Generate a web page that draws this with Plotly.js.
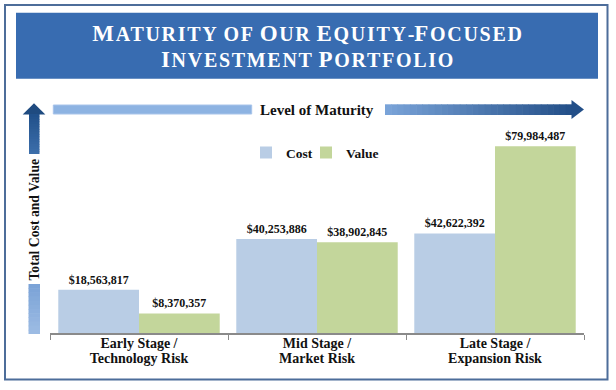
<!DOCTYPE html>
<html>
<head>
<meta charset="utf-8">
<script src="https://cdn.plot.ly/plotly-3.0.1.min.js"></script>
<style>
html,body{margin:0;padding:0;background:#fff;}
#chart{width:616px;height:390px;}
</style>
</head>
<body>
<div id="chart"></div>
<script>
// ---- data ----
const categories = ['Early Stage / Technology Risk', 'Mid Stage / Market Risk', 'Late Stage / Expansion Risk'];
const tickLabels = ['Early Stage /<br>Technology Risk', 'Mid Stage /<br>Market Risk', 'Late Stage /<br>Expansion Risk'];
const costValues = [18563817, 40253886, 42622392];
const valueValues = [8370357, 38902845, 79984487];
const seriesNames = ['Cost', 'Value'];
const chartTitle = 'Maturity of Our Equity-Focused<br>Investment Portfolio';
const yTitle = 'Total Cost and Value';
const arrowLabel = 'Level of Maturity';

// ---- layout geometry (pixels) ----
const W = 616, H = 390;
const M = {l: 50, r: 32, t: 120, b: 57};
const PW = W - M.l - M.r, PH = H - M.t - M.b;
const px = x => (x - M.l) / PW;
const py = y => (H - M.b - y) / PH;
const SERIF = 'Liberation Serif, Times New Roman, serif';

// small-caps look for the title: whole title upper-cased, original capitals a little larger
function smallCapsTitle(s){
  return s.split('<br>').map(line => line.replace(/[A-Z]+|[a-z]+/g, m =>
    /[A-Z]/.test(m[0])
      ? '<span style="font-size:23px;letter-spacing:1.7px">' + m + '</span>'
      : '<span style="letter-spacing:1.7px">' + m + '</span>'
  )).join('<br>');
}
// tick labels: 14px text with tight line spacing
function tightLines(s){
  return s.split('<br>').map(l => '<span style="font-size:14px">' + l + '</span>').join('<br>');
}

function hexToRgb(h){h=h.replace('#','');return [0,2,4].map(i=>parseInt(h.substr(i,2),16));}
function mix(c0,c1,t){const a=hexToRgb(c0),b=hexToRgb(c1);return 'rgb('+a.map((v,i)=>Math.round(v+(b[i]-v)*t)).join(',')+')';}
function hGrad(x0,x1,y0,y1,c0,c1,n){
  const out=[];const w=(x1-x0)/n;
  for(let i=0;i<n;i++){
    out.push({type:'rect',xref:'paper',yref:'paper',layer:'above',
      x0:px(x0+i*w),x1:px(Math.min(x1,x0+(i+1)*w+0.6)),y0:py(y1),y1:py(y0),
      fillcolor:mix(c0,c1,(i+0.5)/n),line:{width:0}});
  }
  return out;
}
function vGrad(x0,x1,y0,y1,c0,c1,n){
  const out=[];const h=(y1-y0)/n;
  for(let i=0;i<n;i++){
    out.push({type:'rect',xref:'paper',yref:'paper',layer:'above',
      x0:px(x0),x1:px(x1),y0:py(Math.min(y1,y0+(i+1)*h+0.6)),y1:py(y0+i*h),
      fillcolor:mix(c0,c1,(i+0.5)/n),line:{width:0}});
  }
  return out;
}
function pathPx(pts){return 'M'+pts.map(p=>px(p[0])+','+py(p[1])).join(' L')+' Z';}

const shapes = [];
// outer frame
shapes.push({type:'rect',xref:'paper',yref:'paper',layer:'below',x0:px(5),x1:px(607.5),y0:py(379.5),y1:py(5),
  line:{color:'#4d6d9a',width:2},fillcolor:'rgba(0,0,0,0)'});
// title banner
shapes.push({type:'rect',xref:'paper',yref:'paper',layer:'below',x0:px(16),x1:px(598),y0:py(78.7),y1:py(12.7),
  line:{width:0},fillcolor:'#386cb1'});
// horizontal left bar
shapes.push({type:'rect',xref:'paper',yref:'paper',layer:'above',x0:px(53.3),x1:px(251.7),y0:py(114),y1:py(105),
  line:{color:'#a8c4ea',width:1},fillcolor:'#8db3e2'});
// horizontal right arrow (gradient shaft + head)
shapes.push(...hGrad(385,572,104.3,115,'#7aa4d9','#234f88',30));
shapes.push({type:'path',xref:'paper',yref:'paper',layer:'above',path:pathPx([[571.5,100],[584,109.6],[571.5,119]]),
  fillcolor:'#234f88',line:{width:0}});
// vertical arrow (head + gradient shaft)
shapes.push({type:'path',xref:'paper',yref:'paper',layer:'above',path:pathPx([[22.7,114.5],[34,103.3],[45.3,114.5]]),
  fillcolor:'#1f4b80',line:{width:0}});
shapes.push(...vGrad(29,39.5,114,154,'#20508a','#3d6fab',16));
// vertical bottom bar
shapes.push(...vGrad(28.5,40,284,334,'#7aa2d6','#9dbce4',12));

const labelFont = {family:SERIF,size:12,weight:'bold',color:'#111'};
const traces = [
  {type:'bar',name:seriesNames[0],x:categories,y:costValues,marker:{color:'#b9cde5'},legend:'legend',
   texttemplate:'$%{y:,.0f}',textposition:'outside',cliponaxis:false,constraintext:'none',
   textfont:labelFont,hoverinfo:'skip'},
  {type:'bar',name:seriesNames[1],x:categories,y:valueValues,marker:{color:'#c3d69b'},legend:'legend2',
   texttemplate:'$%{y:,.0f}',textposition:'outside',cliponaxis:false,constraintext:'none',
   textfont:labelFont,hoverinfo:'skip'}
];

const legendFont = {family:SERIF,size:13.5,weight:'bold',color:'#111'};
const layout = {
  width:W,height:H,margin:M,paper_bgcolor:'#fff',plot_bgcolor:'#fff',
  barmode:'group',bargap:0.093,bargroupgap:0,
  title:{text:smallCapsTitle(chartTitle),x:0.5,xref:'container',xanchor:'center',y:1-41/H,yref:'container',yanchor:'middle',
    font:{family:SERIF,size:20,weight:'bold',textcase:'upper',color:'#fff'}},
  xaxis:{type:'category',tickvals:categories,ticktext:tickLabels.map(tightLines),showline:true,linecolor:'#8a8a8a',linewidth:2,
    ticks:'outside',tickson:'boundaries',ticklen:5,tickcolor:'#8a8a8a',tickwidth:1,showgrid:false,zeroline:false,
    tickfont:{family:SERIF,size:11,weight:'bold',color:'#111'},fixedrange:true},
  yaxis:{range:[0,91.2e6],showticklabels:false,showgrid:false,zeroline:false,showline:false,ticks:'',fixedrange:true},
  showlegend:true,
  legend:{orientation:'h',x:px(246),xanchor:'left',y:py(152.7),yanchor:'middle',bgcolor:'rgba(0,0,0,0)',font:legendFont},
  legend2:{orientation:'h',x:px(306),xanchor:'left',y:py(152.7),yanchor:'middle',bgcolor:'rgba(0,0,0,0)',font:legendFont},
  annotations:[
    {text:arrowLabel,xref:'paper',yref:'paper',x:px(317),y:py(110),xanchor:'center',yanchor:'middle',showarrow:false,
     font:{family:SERIF,size:15,weight:'bold',color:'#111'}},
    {text:yTitle,xref:'paper',yref:'paper',x:px(33.5),y:py(220),xanchor:'center',yanchor:'middle',showarrow:false,textangle:-90,
     font:{family:SERIF,size:13.7,weight:'bold',color:'#111'}}
  ],
  shapes:shapes
};

Plotly.newPlot('chart',traces,layout,{displayModeBar:false,staticPlot:true});
</script>
</body>
</html>
